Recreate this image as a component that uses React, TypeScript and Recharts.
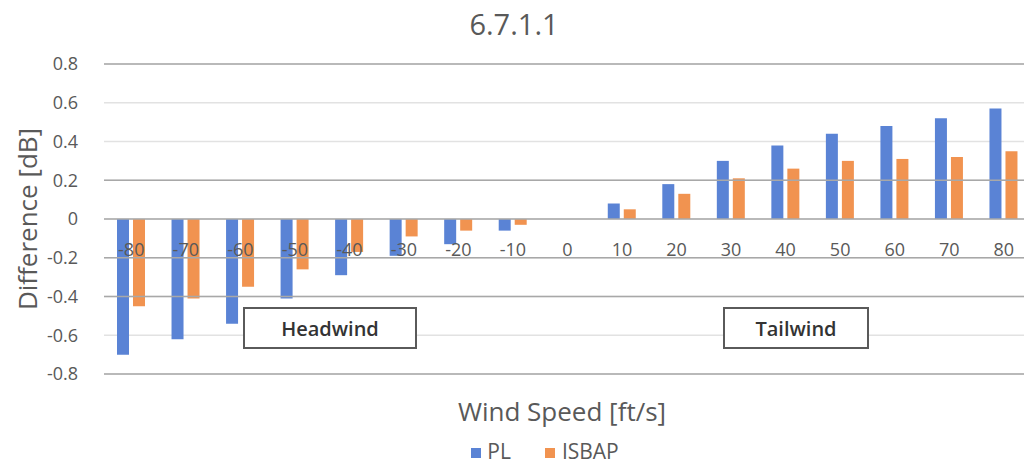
import React from "react";
import { BarChart, Bar, XAxis, YAxis, CartesianGrid, ReferenceLine } from "recharts";

const categories = ["-80", "-70", "-60", "-50", "-40", "-30", "-20", "-10", "0", "10", "20", "30", "40", "50", "60", "70", "80"];
const plValues = [-0.70, -0.62, -0.54, -0.41, -0.29, -0.19, -0.13, -0.06, 0, 0.08, 0.18, 0.30, 0.38, 0.44, 0.48, 0.52, 0.57];
const isbapValues = [-0.45, -0.41, -0.35, -0.26, -0.17, -0.09, -0.06, -0.03, 0, 0.05, 0.13, 0.21, 0.26, 0.30, 0.31, 0.32, 0.35];
const yTicks = [-0.8, -0.6, -0.4, -0.2, 0, 0.2, 0.4, 0.6, 0.8];
const darkLines = [0.8, 0.2, 0, -0.2, -0.4, -0.8];

const data = categories.map((c, i) => ({ cat: c, PL: plValues[i], ISBAP: isbapValues[i] }));

const FONT = "'Open Sans', 'DejaVu Sans', sans-serif";
const TICK_COLOR = "#595959";

const PLOT_TOP = 64;
const PLOT_BOTTOM = 374;
const ZERO_Y = PLOT_TOP + (PLOT_BOTTOM - PLOT_TOP) / 2;
const XAXIS_H = 20;

const renderXTick = (props: any) => {
  const { x, payload } = props;
  return (
    <text x={x} y={ZERO_Y + 37} textAnchor="middle" fill={TICK_COLOR} fontSize={18} fontFamily={FONT}>
      {payload.value}
    </text>
  );
};

const fmtY = (v: number) => (v === 0 ? "0" : v.toFixed(1));

const boxStyle: React.CSSProperties = {
  position: "absolute",
  top: 307,
  height: 42,
  boxSizing: "border-box",
  border: "2px solid #5a5a5a",
  background: "#fff",
  display: "flex",
  alignItems: "center",
  justifyContent: "center",
  fontFamily: FONT,
  fontSize: 20,
  fontWeight: 600,
  color: "#333",
};

export default function App() {
  return (
    <div style={{ position: "absolute", left: 0, top: 0, width: 1024, height: 466, overflow: "hidden", background: "#fff" }}>
      <div style={{ position: "absolute", left: 0, top: 4, width: 1024, textAlign: "center", fontFamily: FONT, fontSize: 29, color: TICK_COLOR, paddingLeft: 2 }}>
        6.7.1.1
      </div>
      <div style={{ position: "absolute", left: 0, top: 0 }}>
        <BarChart
          width={1031}
          height={466}
          data={data}
          margin={{ top: PLOT_TOP, right: 0, bottom: 466 - PLOT_BOTTOM - XAXIS_H, left: 44 }}
          barSize={12}
          barGap={4}
        >
          <CartesianGrid vertical={false} stroke="#E2E2E2" strokeWidth={1.5} />
          {darkLines.map((v) => (
            <ReferenceLine key={v} y={v} stroke="#A8A8A8" strokeWidth={1.5} />
          ))}
          <XAxis dataKey="cat" axisLine={false} tickLine={false} tick={renderXTick} height={XAXIS_H} interval={0} />
          <YAxis
            domain={[-0.8, 0.8]}
            ticks={yTicks}
            tickFormatter={fmtY}
            axisLine={false}
            tickLine={false}
            width={60}
            tickMargin={20}
            tick={{ fill: TICK_COLOR, fontSize: 18, fontFamily: FONT }}
            label={{
              content: () => (
                <text
                  x={27}
                  y={ZERO_Y}
                  transform={`rotate(-90, 27, ${ZERO_Y})`}
                  textAnchor="middle"
                  dominantBaseline="central"
                  fill={TICK_COLOR}
                  fontSize={26}
                  fontFamily={FONT}
                >
                  Difference [dB]
                </text>
              ),
            }}
          />
          <Bar dataKey="PL" fill="#5A83D5" isAnimationActive={false} />
          <Bar dataKey="ISBAP" fill="#F19350" isAnimationActive={false} />
        </BarChart>
      </div>
      <div style={{ position: "absolute", left: 0, top: 393, width: 1124, textAlign: "center", fontFamily: FONT, fontSize: 26, color: TICK_COLOR, lineHeight: "36px" }}>
        Wind Speed [ft/s]
      </div>
      <div style={{ position: "absolute", left: 0, top: 438, width: 1090, height: 26, display: "flex", justifyContent: "center", alignItems: "center", fontFamily: FONT, fontSize: 21, lineHeight: "26px", color: TICK_COLOR }}>
        <span style={{ display: "inline-block", width: 10, height: 10, background: "#5A83D5", marginRight: 6, marginTop: 4 }} />
        <span style={{ marginRight: 34 }}>PL</span>
        <span style={{ display: "inline-block", width: 10, height: 10, background: "#F19350", marginRight: 7, marginTop: 4 }} />
        <span>ISBAP</span>
      </div>
      <div style={{ ...boxStyle, left: 243, width: 174 }}>Headwind</div>
      <div style={{ ...boxStyle, left: 723, width: 146 }}>Tailwind</div>
    </div>
  );
}
